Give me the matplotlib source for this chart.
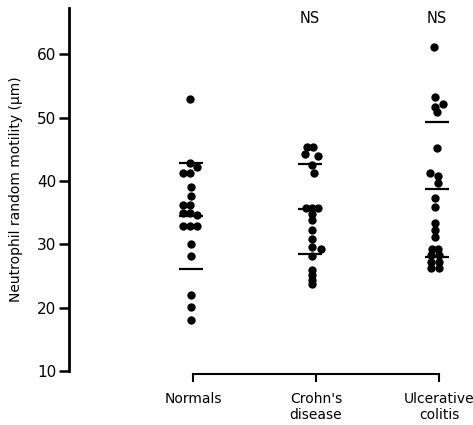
import numpy as np
import matplotlib.pyplot as plt

# Groups and values (um)
groups = ['Normals', "Crohn's\ndisease", 'Ulcerative\ncolitis']

normals = [53.0, 42.8, 42.2, 41.2, 41.2, 39.0, 37.6, 36.2, 36.2,
           34.9, 34.9, 34.6, 32.9, 32.9, 32.9, 30.0, 28.1, 22.0, 20.1, 18.0]
normals_dx = [-3, -3, 4, -10, -3, -2, -2, -10, -3,
              -10, -3, 4, -10, -3, 4, -2, -2, -2, -2, -2]

crohns = [45.3, 45.3, 44.2, 43.9, 42.5, 41.2,
          35.8, 35.8, 35.8, 34.8, 33.8,
          32.2, 30.9, 29.6, 29.2, 28.1,
          26.0, 25.2, 24.4, 23.7]
crohns_dx = [-9, -3, -11, 2, -4, -2,
             -10, -4, 2, -4, -4,
             -4, -4, -4, 5, -4,
             -4, -4, -4, -4]

uc = [61.1, 53.2, 52.1, 51.6, 50.9, 45.2, 41.2, 40.8, 39.6,
      37.3, 35.9, 33.3, 32.2, 31.1, 29.2, 29.2,
      28.3, 28.3, 27.2, 27.2, 26.3, 26.3]
uc_dx = [-5, -4, 4, -4, -2, -2, -9, -1, -1,
         -4, -4, -4, -4, -4, -7, -1,
         -8, 0, -8, 0, -8, 0]

# mean +/- SD bars (upper, mean, lower)
bars = [[42.8, 34.5, 26.1],
        [42.6, 35.5, 28.4],
        [49.3, 38.7, 28.0]]
bar_dx = [-2, -6, -2]

ns_labels = ['', 'NS', 'NS']

px = 1 / 123.0  # one pixel in x data units

fig = plt.figure(figsize=(4.73, 4.25), dpi=100)
ax = fig.add_axes([69 / 473, 54 / 425, 404 / 473, 363 / 425])

for i, (vals, dx) in enumerate([(normals, normals_dx), (crohns, crohns_dx), (uc, uc_dx)]):
    xs = i + np.array(dx) * px
    ax.scatter(xs, vals, s=36, color='black', zorder=3, linewidths=0)
    c = i + bar_dx[i] * px
    for b in bars[i]:
        ax.hlines(b, c - 0.1, c + 0.1, color='black', lw=1.6, zorder=2)
    if ns_labels[i]:
        ax.text(c, 65.6, ns_labels[i], ha='center', va='center', fontsize=10.5)

ax.set_xlim(-1.008, 2.276)
ax.set_ylim(10, 67.3)
ax.set_yticks([10, 20, 30, 40, 50, 60])
ax.set_xticks([0, 1, 2])
ax.set_xticklabels(groups, fontsize=10, linespacing=1.1)
ax.tick_params(axis='y', labelsize=11, length=7, width=1.8, direction='out', pad=2)
ax.tick_params(axis='x', length=6, width=1.5, direction='out', pad=7)
ax.set_ylabel('Neutrophil random motility (µm)', fontsize=10, labelpad=10)

ax.spines['top'].set_visible(False)
ax.spines['right'].set_visible(False)
ax.spines['left'].set_linewidth(2)
ax.spines['bottom'].set_linewidth(1.5)
ax.spines['bottom'].set_bounds(0, 2)
ax.spines['bottom'].set_position(('outward', 2))

fig.savefig('out.png', dpi=100)
